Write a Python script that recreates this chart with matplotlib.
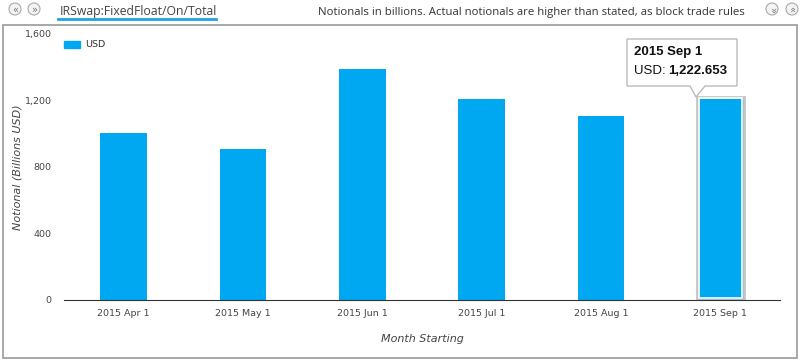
import matplotlib.pyplot as plt
from matplotlib.patches import Rectangle, Polygon, Ellipse

months = ['2015 Apr 1', '2015 May 1', '2015 Jun 1', '2015 Jul 1', '2015 Aug 1', '2015 Sep 1']
usd = [1002, 906, 1389, 1208, 1105, 1222.653]
yticks = [0, 400, 800, 1200, 1600]

W, H = 805, 362
bar_col = '#00a8f2'
fig = plt.figure(figsize=(W / 100, H / 100), dpi=100)
fig.patch.set_facecolor('white')

def px(x, y):
    # figure pixel coords (top-left origin) -> figure fraction
    return x / W, 1 - y / H

# outer frame
fig.add_artist(Rectangle(px(3, 358), 794 / W, 333 / H, transform=fig.transFigure,
                         fill=False, edgecolor='#999999', lw=1.2))

# header
fig.text(*px(60, 11), 'IRSwap:FixedFloat/On/Total', fontsize=8.8, color='#444444',
         family='Open Sans', va='center', ha='left')
fig.add_artist(plt.Line2D([58 / W, 216 / W], [1 - 19 / H] * 2, color='#1ea5dc', lw=2,
                          transform=fig.transFigure))
fig.text(*px(745, 12), 'Notionals in billions. Actual notionals are higher than stated, as block trade rules',
         fontsize=8.2, color='#333333', family='Open Sans', va='center', ha='right')
for cx, sym, rot in [(15, '\u00ab', 0), (34, '\u00bb', 0), (772, '\u00bb', -90), (792, '\u00ab', -90)]:
    fig.add_artist(Ellipse(px(cx, 9), 12 / W, 12 / H, transform=fig.transFigure,
                           facecolor='#f4f4f4', edgecolor='#aaaaaa', lw=0.8))
    fig.text(*px(cx, 9.5), sym, fontsize=7, color='#777777', ha='center', va='center',
             rotation=rot)

ax = fig.add_axes([64 / W, 1 - 299.5 / H, 716 / W, 265.5 / H])
x = range(len(months))
bars = ax.bar(x, usd, width=0.39, color=bar_col, zorder=2)
# highlighted last bar: grey outline plus white inner line
bars[-1].set_edgecolor('#c4c4c4')
bars[-1].set_linewidth(2)
ax.bar(len(months) - 1, usd[-1] - 16, bottom=8, width=0.355, color='none',
       edgecolor='white', lw=1.2, zorder=3)

ax.set_xlim(-0.5, len(months) - 0.5)
ax.set_ylim(0, 1600)
ax.set_yticks(yticks)
ax.set_yticklabels([f'{v:,}' for v in yticks])
ax.set_xticks(list(x))
ax.set_xticklabels(months)
for s in ['top', 'right', 'left']:
    ax.spines[s].set_visible(False)
ax.spines['bottom'].set_color('#333333')
ax.tick_params(axis='both', length=0, labelsize=6.8, colors='#444444')
ax.tick_params(axis='x', pad=7)
ax.tick_params(axis='y', pad=9)
ax.set_ylabel('Notional (Billions USD)', fontstyle='italic', fontsize=8, color='#444444')
ax.yaxis.set_label_coords(-0.058, 0.5)
ax.set_xlabel('Month Starting', fontstyle='italic', fontsize=8, color='#444444', labelpad=11)

# legend
fig.add_artist(Rectangle(px(64, 48), 16 / W, 7 / H, transform=fig.transFigure, color=bar_col))
fig.text(*px(85, 44.5), 'USD', fontsize=6.8, color='#333333', va='center')

# tooltip
tip = Polygon([px(627, 39), px(737, 39), px(737, 86), px(705, 86), px(696, 97),
               px(690, 86), px(627, 86)], closed=True, transform=fig.transFigure,
              facecolor='white', edgecolor='#bbbbbb', lw=1, zorder=5)
fig.add_artist(tip)
fig.text(*px(634, 52), '2015 Sep 1', fontsize=9.5, fontweight='bold', color='#111111',
         family='Liberation Sans', va='center', zorder=6)
fig.text(*px(634, 71), 'USD:', fontsize=9.5, color='#111111', family='Liberation Sans',
         va='center', zorder=6)
fig.text(*px(668, 71), f'{usd[-1]:,.3f}', fontsize=9.5, fontweight='bold', color='#111111',
         family='Liberation Sans', va='center', zorder=6)

fig.savefig('out.png', dpi=100)
